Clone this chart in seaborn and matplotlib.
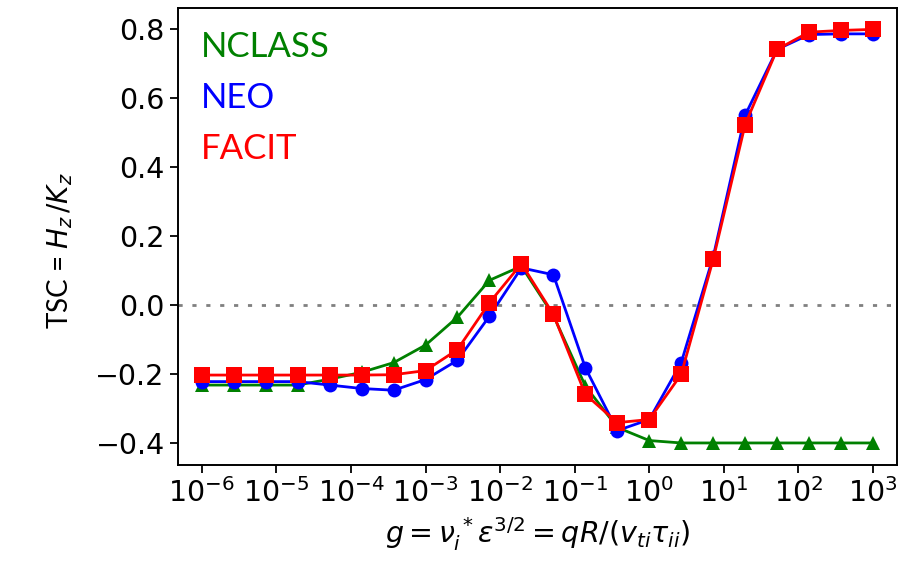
import numpy as np
import pandas as pd
import seaborn as sns
import matplotlib.pyplot as plt

# collisionality g, 22 points log spaced from 1e-6 to 1e3
g = [1e-6, 2.68e-6, 7.2e-6, 1.93e-5, 5.18e-5, 1.39e-4, 3.73e-4, 1e-3,
     2.68e-3, 7.2e-3, 1.93e-2, 5.18e-2, 0.139, 0.373, 1.0, 2.68, 7.2,
     19.3, 51.8, 139.0, 373.0, 1000.0]

nclass = [-0.232, -0.232, -0.232, -0.232, -0.215, -0.195, -0.167, -0.116,
          -0.035, 0.072, 0.113, -0.030, -0.235, -0.355, -0.393, -0.400,
          -0.400, -0.400, -0.400, -0.400, -0.400, -0.400]
neo = [-0.222, -0.222, -0.222, -0.222, -0.232, -0.242, -0.247, -0.216,
       -0.160, -0.032, 0.108, 0.088, -0.182, -0.364, -0.332, -0.167,
       0.140, 0.551, 0.742, 0.785, 0.787, 0.787]
facit = [-0.203, -0.203, -0.203, -0.203, -0.203, -0.203, -0.202, -0.190,
         -0.129, 0.007, 0.120, -0.027, -0.259, -0.341, -0.332, -0.201,
         0.133, 0.524, 0.742, 0.792, 0.797, 0.800]

codes = ["NCLASS", "NEO", "FACIT"]
colors = {"NCLASS": "green", "NEO": "blue", "FACIT": "red"}
markers = {"NCLASS": "^", "NEO": "o", "FACIT": "s"}
msizes = {"NCLASS": 10.5, "NEO": 10, "FACIT": 12}

df = pd.DataFrame({
    "g": g * 3,
    "tsc": nclass + neo + facit,
    "code": ["NCLASS"] * len(g) + ["NEO"] * len(g) + ["FACIT"] * len(g),
})

plt.rcParams["mathtext.fontset"] = "dejavusans"

fig = plt.figure(figsize=(9.01, 5.61), dpi=100)
ax = fig.add_axes([0.1976, 0.1711, 0.798, 0.8146])

ax.axhline(0, color="gray", lw=2, linestyle=(0, (1.5, 3.5)), zorder=1)

for c in codes:
    sns.lineplot(data=df[df["code"] == c], x="g", y="tsc", ax=ax,
                 color=colors[c], marker=markers[c], markersize=msizes[c],
                 markeredgewidth=0, lw=2, label=c, zorder=3)

ax.set_xscale("log")
ax.set_xlim(4.8e-7, 2.1e3)
ax.set_ylim(-0.464, 0.862)
ax.set_xticks([10.0 ** k for k in range(-6, 4)])
ax.set_yticks([-0.4, -0.2, 0.0, 0.2, 0.4, 0.6, 0.8])

ax.tick_params(axis="both", which="major", labelsize=20.5, length=6, width=1.3)
ax.tick_params(axis="x", which="minor", length=3.5, width=1.0)
for s in ax.spines.values():
    s.set_linewidth(1.4)

ax.set_xlabel(r"$g = \nu_i^{\,*}\epsilon^{3/2} = qR/(v_{ti}\tau_{ii})$",
              fontsize=20.5, labelpad=5)
ax.set_ylabel(r"TSC = $H_z\,/K_z$", fontsize=20, family="Lato", labelpad=10)
ax.yaxis.set_label_coords(-0.143, 0.47)

leg = ax.legend(loc="upper left", frameon=False, handlelength=0,
                handletextpad=0, labelspacing=0.55, borderaxespad=0.25,
                prop={"family": "Lato", "size": 25})
for h, t in zip(leg.legend_handles, leg.get_texts()):
    h.set_visible(False)
    t.set_color(colors[t.get_text()])

fig.savefig("out.png", dpi=100)
